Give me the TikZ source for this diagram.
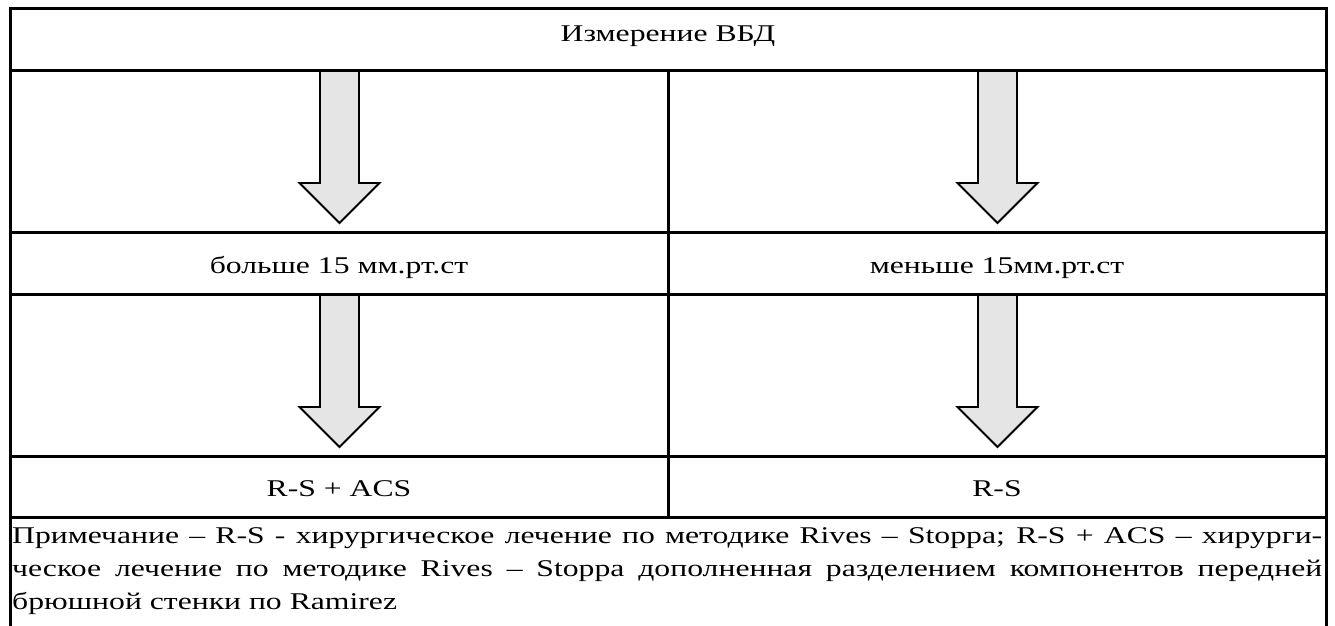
\documentclass[tikz,border=0pt]{standalone}
\usepackage{fontspec}
\setmainfont[FakeStretch=1.32]{Liberation Serif}
\usetikzlibrary{calc}
\definecolor{arrowgray}{HTML}{E5E5E5}
\tikzset{
  gridline/.style={line width=3bp},
  blockarrow/.style={draw=black, line width=1.8bp, fill=arrowgray, line join=miter},
  lbl/.style={anchor=base, inner sep=0pt, font=\fontsize{24bp}{33bp}\selectfont},
  notel/.style={anchor=base west, inner sep=0pt, font=\fontsize{24bp}{33bp}\selectfont}
}
\newcommand{\bigdownarrow}[2]{%
  \path[blockarrow] ($(#1)+(-19.5,0)$) -- ($(#2)+(-19.5,-40)$) -- ($(#2)+(-40,-40)$) -- (#2)
    -- ($(#2)+(40,-40)$) -- ($(#2)+(19.5,-40)$) -- ($(#1)+(19.5,0)$) -- cycle;}
\begin{document}
\begin{tikzpicture}[x=1bp,y=-1bp]
\useasboundingbox (0,0) rectangle (1335,626);
% arrow anchor coordinates
\coordinate (a1s) at (339.5,71);  \coordinate (a1t) at (339.5,223);
\coordinate (a2s) at (997.5,71);  \coordinate (a2t) at (997.5,223);
\coordinate (a3s) at (339.5,294); \coordinate (a3t) at (339.5,447);
\coordinate (a4s) at (997.5,294); \coordinate (a4t) at (997.5,447);
\bigdownarrow{a1s}{a1t}
\bigdownarrow{a2s}{a2t}
\bigdownarrow{a3s}{a3t}
\bigdownarrow{a4s}{a4t}
% table grid
\draw[gridline] (10,626) -- (10,9) -- (1326,9) -- (1326,626);
\foreach \yy in {71,232,294,456,517} \draw[gridline] (10,\yy) -- (1326,\yy);
\draw[gridline] (668,71) -- (668,517);
% texts
\node[lbl] (head) at (668,42) {Измерение ВБД};
\node[lbl] (more) at (339,273) {больше 15 мм.рт.ст};
\node[lbl] (less) at (997,273) {меньше 15мм.рт.ст};
\node[lbl] (rsacs) at (339,496) {R-S + ACS};
\node[lbl] (rs) at (997,496) {R-S};
\node[notel] (note1) at (12,543) {\hbox to 1310bp{Примечание – R-S - хирургическое лечение по методике Rives – Stoppa; R-S + ACS – хирурги-}};
\node[notel] (note2) at (12,576) {\hbox to 1310bp{ческое лечение по методике Rives – Stoppa дополненная разделением компонентов передней}};
\node[notel] (note3) at (12,609) {брюшной стенки по Ramirez};
\end{tikzpicture}
\end{document}
